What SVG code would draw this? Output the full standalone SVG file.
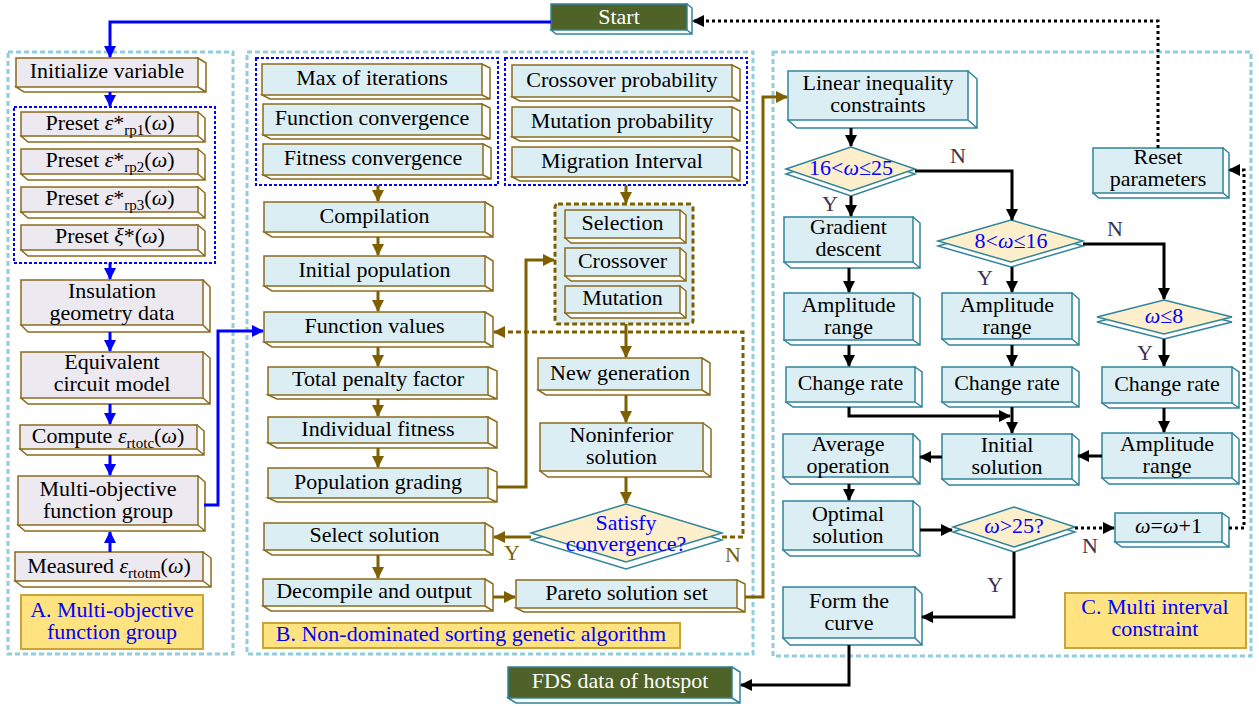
<svg xmlns="http://www.w3.org/2000/svg" width="1259" height="706" viewBox="0 0 1259 706">
<style>
text{font-family:"Liberation Serif","Times New Roman",serif;font-size:22px;text-anchor:middle;fill:#000}
.it{font-style:italic}
.sub{font-size:15px}
.panel{fill:none;stroke:#92CDDC;stroke-width:3;stroke-dasharray:5 3}
.grp{fill:none;stroke:#0000FF;stroke-width:2;stroke-dasharray:3 2}
.grpb{fill:#DCEEF3;stroke:#7F6000;stroke-width:3;stroke-dasharray:5 3}
.a .f{fill:#ECE9F1;stroke:#8B6B1E;stroke-width:1.5}
.a .e{fill:#fff;stroke:#8B6B1E;stroke-width:1.5}
.b .f{fill:#DBEEF4;stroke:#8B6B1E;stroke-width:1.5}
.b .e{fill:#fff;stroke:#8B6B1E;stroke-width:1.5}
.c .f{fill:#DBEEF4;stroke:#31849B;stroke-width:1.5}
.c .e{fill:#fff;stroke:#31849B;stroke-width:1.5}
.g .f{fill:#4F6228;stroke:#31849B;stroke-width:1.5}
.g .e{fill:#fff;stroke:#31849B;stroke-width:1.5}
.g text{fill:#fff}
.dia .f{fill:#FDEFCB;stroke:#31849B;stroke-width:1.5}
.dia .e{fill:#fff;stroke:#31849B;stroke-width:1.5}
.dia text{fill:#0000FF}
.lab rect{fill:#FFE380;stroke:#C9A43A;stroke-width:2}
.lab text{fill:#0000FF}
.cb{fill:none;stroke:#0000FF;stroke-width:3}
.cbr{fill:none;stroke:#7F6000;stroke-width:3}
.cbd{fill:none;stroke:#7F6000;stroke-width:3;stroke-dasharray:5 3}
.ck{fill:none;stroke:#000;stroke-width:3}
.ckd{fill:none;stroke:#000;stroke-width:3;stroke-dasharray:3 3}
.yn{fill:#403151}
.ynb{fill:#7F6000}
</style>
<defs>
<marker id="mB" markerUnits="userSpaceOnUse" markerWidth="12" markerHeight="12" viewBox="0 0 12 12" refX="11" refY="6" orient="auto"><path d="M0,0 L12,6 L0,12 Z" fill="#0000FF"/></marker>
<marker id="mR" markerUnits="userSpaceOnUse" markerWidth="12" markerHeight="12" viewBox="0 0 12 12" refX="11" refY="6" orient="auto"><path d="M0,0 L12,6 L0,12 Z" fill="#7F6000"/></marker>
<marker id="mK" markerUnits="userSpaceOnUse" markerWidth="12" markerHeight="12" viewBox="0 0 12 12" refX="11" refY="6" orient="auto"><path d="M0,0 L12,6 L0,12 Z" fill="#000"/></marker>
</defs>

<g id="panels">
<rect class="panel" x="8" y="52" width="225" height="602"/>
<rect class="panel" x="247" y="52" width="506" height="602"/>
<rect class="panel" x="773" y="52" width="478" height="604"/>
<rect class="grp" x="14" y="107" width="201" height="156"/>
<rect class="grp" x="256" y="58" width="242" height="127"/>
<rect class="grp" x="505" y="58" width="242" height="127"/>
<rect class="grpb" x="555" y="204" width="138" height="120" rx="3"/>
</g>

<g id="start" class="g"><path class="e" d="M687,4 l5,4 v26 h-136 l-5,-4 Z M687,30 l5,4"/><rect class="f" x="551" y="4" width="136" height="26"/><text x="619" y="24">Start</text></g>
<g id="fds" class="g"><path class="e" d="M732,667 l8,5 v31 h-224 l-8,-5 Z M732,698 l8,5"/><rect class="f" x="508" y="667" width="224" height="31"/><text x="620" y="688">FDS data of hotspot</text></g>

<g id="init" class="a"><path class="e" d="M198,58 l8,5 v29 h-182 l-8,-5 Z M198,87 l8,5"/><rect class="f" x="16" y="58" width="182" height="29"/><text x="107" y="78">Initialize variable</text></g>
<g id="preset1" class="a"><path class="e" d="M198,112 l7,6 v24 h-177 l-7,-6 Z M198,136 l7,6"/><rect class="f" x="21" y="112" width="177" height="24"/><text x="110" y="130">Preset <tspan class="it">ε</tspan>*<tspan class="sub" dy="5">rp1</tspan><tspan dy="-5">(</tspan><tspan class="it">ω</tspan>)</text></g>
<g id="preset2" class="a"><path class="e" d="M198,149 l7,6 v25 h-177 l-7,-6 Z M198,174 l7,6"/><rect class="f" x="21" y="149" width="177" height="25"/><text x="110" y="167">Preset <tspan class="it">ε</tspan>*<tspan class="sub" dy="5">rp2</tspan><tspan dy="-5">(</tspan><tspan class="it">ω</tspan>)</text></g>
<g id="preset3" class="a"><path class="e" d="M198,187 l7,6 v25 h-177 l-7,-6 Z M198,212 l7,6"/><rect class="f" x="21" y="187" width="177" height="25"/><text x="110" y="205">Preset <tspan class="it">ε</tspan>*<tspan class="sub" dy="5">rp3</tspan><tspan dy="-5">(</tspan><tspan class="it">ω</tspan>)</text></g>
<g id="presetxi" class="a"><path class="e" d="M198,225 l7,6 v25 h-177 l-7,-6 Z M198,250 l7,6"/><rect class="f" x="21" y="225" width="177" height="25"/><text x="110" y="243">Preset <tspan class="it">ξ</tspan>*(<tspan class="it">ω</tspan>)</text></g>
<g id="insulation" class="a"><path class="e" d="M203,280 l7,7 v45 h-182 l-7,-7 Z M203,325 l7,7"/><rect class="f" x="21" y="280" width="182" height="45"/><text x="112" y="297.5">Insulation</text><text x="112" y="319.5">geometry data</text></g>
<g id="equivalent" class="a"><path class="e" d="M203,352 l7,6 v46 h-182 l-7,-6 Z M203,398 l7,6"/><rect class="f" x="21" y="352" width="182" height="46"/><text x="112" y="369">Equivalent</text><text x="112" y="391">circuit model</text></g>
<g id="compute" class="a"><path class="e" d="M197,425 l7,6 v24 h-177 l-7,-6 Z M197,449 l7,6"/><rect class="f" x="20" y="425" width="177" height="24"/><text x="108" y="443">Compute <tspan class="it">ε</tspan><tspan class="sub" dy="5">rtotc</tspan><tspan dy="-5">(</tspan><tspan class="it">ω</tspan>)</text></g>
<g id="multiobj" class="a"><path class="e" d="M198,476 l7,6 v49 h-180 l-7,-6 Z M198,525 l7,6"/><rect class="f" x="18" y="476" width="180" height="49"/><text x="108" y="495.5">Multi-objective</text><text x="108" y="517.5">function group</text></g>
<g id="measured" class="a"><path class="e" d="M203,552 l8,6 v29 h-188 l-8,-6 Z M203,581 l8,6"/><rect class="f" x="15" y="552" width="188" height="29"/><text x="109" y="572.5">Measured <tspan class="it">ε</tspan><tspan class="sub" dy="5">rtotm</tspan><tspan dy="-5">(</tspan><tspan class="it">ω</tspan>)</text></g>

<g id="maxit" class="b"><path class="e" d="M482,64 l8,4 v31 h-220 l-8,-4 Z M482,95 l8,4"/><rect class="f" x="262" y="64" width="220" height="31"/><text x="372" y="85">Max of iterations</text></g>
<g id="funcconv" class="b"><path class="e" d="M482,104 l8,4 v31 h-219 l-8,-4 Z M482,135 l8,4"/><rect class="f" x="263" y="104" width="219" height="31"/><text x="372" y="125">Function convergence</text></g>
<g id="fitconv" class="b"><path class="e" d="M483,144 l8,4 v31 h-220 l-8,-4 Z M483,175 l8,4"/><rect class="f" x="263" y="144" width="220" height="31"/><text x="373" y="165">Fitness convergence</text></g>
<g id="compilation" class="b"><path class="e" d="M485,202 l8,5 v30 h-221 l-8,-5 Z M485,232 l8,5"/><rect class="f" x="264" y="202" width="221" height="30"/><text x="374.5" y="222.5">Compilation</text></g>
<g id="initpop" class="b"><path class="e" d="M485,256 l8,5 v30 h-221 l-8,-5 Z M485,286 l8,5"/><rect class="f" x="264" y="256" width="221" height="30"/><text x="374.5" y="276.5">Initial population</text></g>
<g id="funcval" class="b"><path class="e" d="M485,312 l8,5 v30 h-221 l-8,-5 Z M485,342 l8,5"/><rect class="f" x="264" y="312" width="221" height="30"/><text x="374.5" y="332.5">Function values</text></g>
<g id="totpen" class="b"><path class="e" d="M488,367 l9,4 v28 h-220 l-9,-4 Z M488,395 l9,4"/><rect class="f" x="268" y="367" width="220" height="28"/><text x="378" y="386">Total penalty factor</text></g>
<g id="indfit" class="b"><path class="e" d="M488,417 l9,5 v26 h-220 l-9,-5 Z M488,443 l9,5"/><rect class="f" x="268" y="417" width="220" height="26"/><text x="378" y="435.5">Individual fitness</text></g>
<g id="popgrad" class="b"><path class="e" d="M488,468 l9,4 v30 h-220 l-9,-4 Z M488,498 l9,4"/><rect class="f" x="268" y="468" width="220" height="30"/><text x="378" y="488.5">Population grading</text></g>
<g id="selsol" class="b"><path class="e" d="M485,523 l8,5 v27 h-221 l-8,-5 Z M485,550 l8,5"/><rect class="f" x="264" y="523" width="221" height="27"/><text x="374.5" y="542">Select solution</text></g>
<g id="decompile" class="b"><path class="e" d="M485,579 l8,5 v27 h-222 l-8,-5 Z M485,606 l8,5"/><rect class="f" x="263" y="579" width="222" height="27"/><text x="374" y="598">Decompile and output</text></g>
<g id="pareto" class="b"><path class="e" d="M737,580 l8,4 v28 h-221 l-8,-4 Z M737,608 l8,4"/><rect class="f" x="516" y="580" width="221" height="28"/><text x="626.5" y="599.5">Pareto solution set</text></g>
<g id="crossprob" class="b"><path class="e" d="M732,65 l8,4 v32 h-220 l-8,-4 Z M732,97 l8,4"/><rect class="f" x="512" y="65" width="220" height="32"/><text x="622" y="86.5">Crossover probability</text></g>
<g id="mutprob" class="b"><path class="e" d="M732,107 l8,4 v30 h-220 l-8,-4 Z M732,137 l8,4"/><rect class="f" x="512" y="107" width="220" height="30"/><text x="622" y="127.5">Mutation probability</text></g>
<g id="migration" class="b"><path class="e" d="M732,147 l8,4 v30 h-220 l-8,-4 Z M732,177 l8,4"/><rect class="f" x="512" y="147" width="220" height="30"/><text x="622" y="167.5">Migration Interval</text></g>
<g id="selection" class="b"><path class="e" d="M680,210 l6,5 v28 h-115 l-6,-5 Z M680,238 l6,5"/><rect class="f" x="565" y="210" width="115" height="28"/><text x="622.5" y="229.5">Selection</text></g>
<g id="crossover" class="b"><path class="e" d="M680,248 l6,5 v28 h-115 l-6,-5 Z M680,276 l6,5"/><rect class="f" x="565" y="248" width="115" height="28"/><text x="622.5" y="267.5">Crossover</text></g>
<g id="mutation" class="b"><path class="e" d="M680,286 l6,5 v27 h-115 l-6,-5 Z M680,313 l6,5"/><rect class="f" x="565" y="286" width="115" height="27"/><text x="622.5" y="305">Mutation</text></g>
<g id="newgen" class="b"><path class="e" d="M702,358 l8,5 v32 h-164 l-8,-5 Z M702,390 l8,5"/><rect class="f" x="538" y="358" width="164" height="32"/><text x="620" y="379.5">New generation</text></g>
<g id="noninf" class="b"><path class="e" d="M703,423 l8,6 v48 h-163 l-8,-6 Z M703,471 l8,6"/><rect class="f" x="540" y="423" width="163" height="48"/><text x="621.5" y="442">Noninferior</text><text x="621.5" y="464">solution</text></g>
<g id="satisfy" class="dia"><polygon class="e" points="531,540 626,511 722,540 626,569"/><polygon class="f" points="531,533 626,504 722,533 626,562"/><text x="626" y="530">Satisfy</text><text x="626" y="551">convergence?</text></g>

<g id="linear" class="c"><path class="e" d="M968,71 l9,8 v49 h-180 l-9,-8 Z M968,120 l9,8"/><rect class="f" x="788" y="71" width="180" height="49"/><text x="878" y="90">Linear inequality</text><text x="878" y="112">constraints</text></g>
<g id="dia1" class="dia"><polygon class="e" points="786,174 851,152 915,174 851,196"/><polygon class="f" points="786,169 851,147 915,169 851,191"/><text x="851" y="175">16&lt;<tspan class="it">ω</tspan>≤25</text></g>
<g id="gradient" class="c"><path class="e" d="M913,217 l7,6 v45 h-129 l-7,-6 Z M913,262 l7,6"/><rect class="f" x="784" y="217" width="129" height="45"/><text x="848.5" y="233.5">Gradient</text><text x="848.5" y="255.5">descent</text></g>
<g id="amp1" class="c"><path class="e" d="M913,293 l7,5 v47 h-129 l-7,-5 Z M913,340 l7,5"/><rect class="f" x="784" y="293" width="129" height="47"/><text x="848.5" y="311.5">Amplitude</text><text x="848.5" y="333.5">range</text></g>
<g id="chg1" class="c"><path class="e" d="M915,367 l7,5 v35 h-129 l-7,-5 Z M915,402 l7,5"/><rect class="f" x="786" y="367" width="129" height="35"/><text x="850.5" y="390">Change rate</text></g>
<g id="dia2" class="dia"><polygon class="e" points="938,246 1011,225 1083,246 1011,267"/><polygon class="f" points="938,241 1011,220 1083,241 1011,262"/><text x="1011" y="248">8&lt;<tspan class="it">ω</tspan>≤16</text></g>
<g id="amp2" class="c"><path class="e" d="M1072,293 l7,6 v46 h-130 l-7,-6 Z M1072,339 l7,6"/><rect class="f" x="942" y="293" width="130" height="46"/><text x="1007" y="311.5">Amplitude</text><text x="1007" y="333.5">range</text></g>
<g id="chg2" class="c"><path class="e" d="M1072,367 l7,5 v35 h-130 l-7,-5 Z M1072,402 l7,5"/><rect class="f" x="942" y="367" width="130" height="35"/><text x="1007" y="390">Change rate</text></g>
<g id="dia3" class="dia"><polygon class="e" points="1097,322 1164,305 1232,322 1164,339"/><polygon class="f" points="1097,317 1164,300 1232,317 1164,334"/><text x="1164" y="323"><tspan class="it">ω</tspan>≤8</text></g>
<g id="chg3" class="c"><path class="e" d="M1232,367 l7,5 v36 h-130 l-7,-5 Z M1232,403 l7,5"/><rect class="f" x="1102" y="367" width="130" height="36"/><text x="1167" y="390.5">Change rate</text></g>
<g id="amp3" class="c"><path class="e" d="M1232,433 l7,6 v45 h-130 l-7,-6 Z M1232,478 l7,6"/><rect class="f" x="1102" y="433" width="130" height="45"/><text x="1167" y="450.5">Amplitude</text><text x="1167" y="472.5">range</text></g>
<g id="initsol" class="c"><path class="e" d="M1072,434 l7,6 v45 h-130 l-7,-6 Z M1072,479 l7,6"/><rect class="f" x="942" y="434" width="130" height="45"/><text x="1007" y="451.5">Initial</text><text x="1007" y="473.5">solution</text></g>
<g id="average" class="c"><path class="e" d="M913,434 l7,7 v43 h-130 l-7,-7 Z M913,477 l7,7"/><rect class="f" x="783" y="434" width="130" height="43"/><text x="848" y="450.5">Average</text><text x="848" y="472.5">operation</text></g>
<g id="optimal" class="c"><path class="e" d="M913,501 l7,6 v49 h-130 l-7,-6 Z M913,550 l7,6"/><rect class="f" x="783" y="501" width="130" height="49"/><text x="848" y="520.5">Optimal</text><text x="848" y="542.5">solution</text></g>
<g id="dia4" class="dia"><polygon class="e" points="953,532 1014,512 1075,532 1014,552"/><polygon class="f" points="953,527 1014,507 1075,527 1014,547"/><text x="1014" y="533"><tspan class="it">ω</tspan>&gt;25?</text></g>
<g id="omegainc" class="c"><path class="e" d="M1222,513 l7,5 v29 h-107 l-7,-5 Z M1222,542 l7,5"/><rect class="f" x="1115" y="513" width="107" height="29"/><text x="1168.5" y="533"><tspan class="it">ω</tspan>=<tspan class="it">ω</tspan>+1</text></g>
<g id="reset" class="c"><path class="e" d="M1223,148 l6,5 v45 h-130 l-6,-5 Z M1223,193 l6,5"/><rect class="f" x="1093" y="148" width="130" height="45"/><text x="1158" y="164">Reset</text><text x="1158" y="186">parameters</text></g>
<g id="formcurve" class="c"><path class="e" d="M915,587 l7,7 v51 h-132 l-7,-7 Z M915,638 l7,7"/><rect class="f" x="783" y="587" width="132" height="51"/><text x="849" y="607.5">Form the</text><text x="849" y="629.5">curve</text></g>

<g id="connectors">
<path class="cb" d="M551,22 H110 V57" marker-end="url(#mB)"/>
<path class="cb" d="M110,92 V106" marker-end="url(#mB)"/>
<path class="cb" d="M110,263 V279" marker-end="url(#mB)"/>
<path class="cb" d="M110,332 V351" marker-end="url(#mB)"/>
<path class="cb" d="M110,404 V424" marker-end="url(#mB)"/>
<path class="cb" d="M110,455 V475" marker-end="url(#mB)"/>
<path class="cb" d="M110,552 V532" marker-end="url(#mB)"/>
<path class="cb" d="M204,505 H218 V331 H263" marker-end="url(#mB)"/>

<path class="cbr" d="M378,185 V201" marker-end="url(#mR)"/>
<path class="cbr" d="M378,237 V255" marker-end="url(#mR)"/>
<path class="cbr" d="M378,291 V311" marker-end="url(#mR)"/>
<path class="cbr" d="M378,347 V366" marker-end="url(#mR)"/>
<path class="cbr" d="M378,399 V416" marker-end="url(#mR)"/>
<path class="cbr" d="M378,448 V467" marker-end="url(#mR)"/>
<path class="cbr" d="M497,487 H526 V260 H554" marker-end="url(#mR)"/>
<path class="cbr" d="M626,185 V203" marker-end="url(#mR)"/>
<path class="cbr" d="M626,324 V357" marker-end="url(#mR)"/>
<path class="cbr" d="M626,395 V422" marker-end="url(#mR)"/>
<path class="cbr" d="M626,477 V503" marker-end="url(#mR)"/>
<path class="cbr" d="M531,537 H494" marker-end="url(#mR)"/>
<path class="cbr" d="M378,555 V578" marker-end="url(#mR)"/>
<path class="cbr" d="M493,597 H515" marker-end="url(#mR)"/>
<path class="cbr" d="M745,597 H763 V97 H787" marker-end="url(#mR)"/>
<path class="cbd" d="M722,537 H743 V332 H494" marker-end="url(#mR)"/>

<path class="ck" d="M851,128 V146" marker-end="url(#mK)"/>
<path class="ck" d="M851,196 V216" marker-end="url(#mK)"/>
<path class="ck" d="M915,171 H1012 V220" marker-end="url(#mK)"/>
<path class="ck" d="M849,268 V292" marker-end="url(#mK)"/>
<path class="ck" d="M849,345 V366" marker-end="url(#mK)"/>
<path class="ck" d="M1012,267 V292" marker-end="url(#mK)"/>
<path class="ck" d="M1083,244 H1164 V299" marker-end="url(#mK)"/>
<path class="ck" d="M1012,345 V366" marker-end="url(#mK)"/>
<path class="ck" d="M1164,339 V366" marker-end="url(#mK)"/>
<path class="ck" d="M849,407 V416 H1010" marker-end="url(#mK)"/>
<path class="ck" d="M1012,407 V433" marker-end="url(#mK)"/>
<path class="ck" d="M1164,408 V432" marker-end="url(#mK)"/>
<path class="ck" d="M1102,456 H1078" marker-end="url(#mK)"/>
<path class="ck" d="M942,457 H920" marker-end="url(#mK)"/>
<path class="ck" d="M849,484 V500" marker-end="url(#mK)"/>
<path class="ck" d="M920,530 H952" marker-end="url(#mK)"/>
<path class="ck" d="M1014,552 V617 H922" marker-end="url(#mK)"/>
<path class="ck" d="M849,645 V685 H741" marker-end="url(#mK)"/>
<path class="ckd" d="M1075,528 H1114" marker-end="url(#mK)"/>
<path class="ckd" d="M1229,528 H1244 V170 H1229" marker-end="url(#mK)"/>
<path class="ckd" d="M1158,148 V21 H693" marker-end="url(#mK)"/>
</g>

<g id="branch-labels">
<text class="ynb" x="512" y="560">Y</text>
<text class="ynb" x="733" y="562">N</text>
<text class="yn" x="958" y="163">N</text>
<text class="yn" x="830" y="211">Y</text>
<text class="yn" x="985" y="285">Y</text>
<text class="yn" x="1115" y="236">N</text>
<text class="yn" x="1145" y="360">Y</text>
<text class="yn" x="995" y="592">Y</text>
<text class="yn" x="1090" y="553">N</text>
</g>

<g id="labelA" class="lab"><rect x="21" y="595" width="182" height="54"/><text x="112" y="617">A. Multi-objective</text><text x="112" y="639">function group</text></g>
<g id="labelB" class="lab"><rect x="263" y="623" width="417" height="25"/><text x="471" y="641">B. Non-dominated sorting genetic algorithm</text></g>
<g id="labelC" class="lab"><rect x="1065" y="593" width="181" height="55"/><text x="1155" y="614">C. Multi interval</text><text x="1155" y="636">constraint</text></g>
</svg>
